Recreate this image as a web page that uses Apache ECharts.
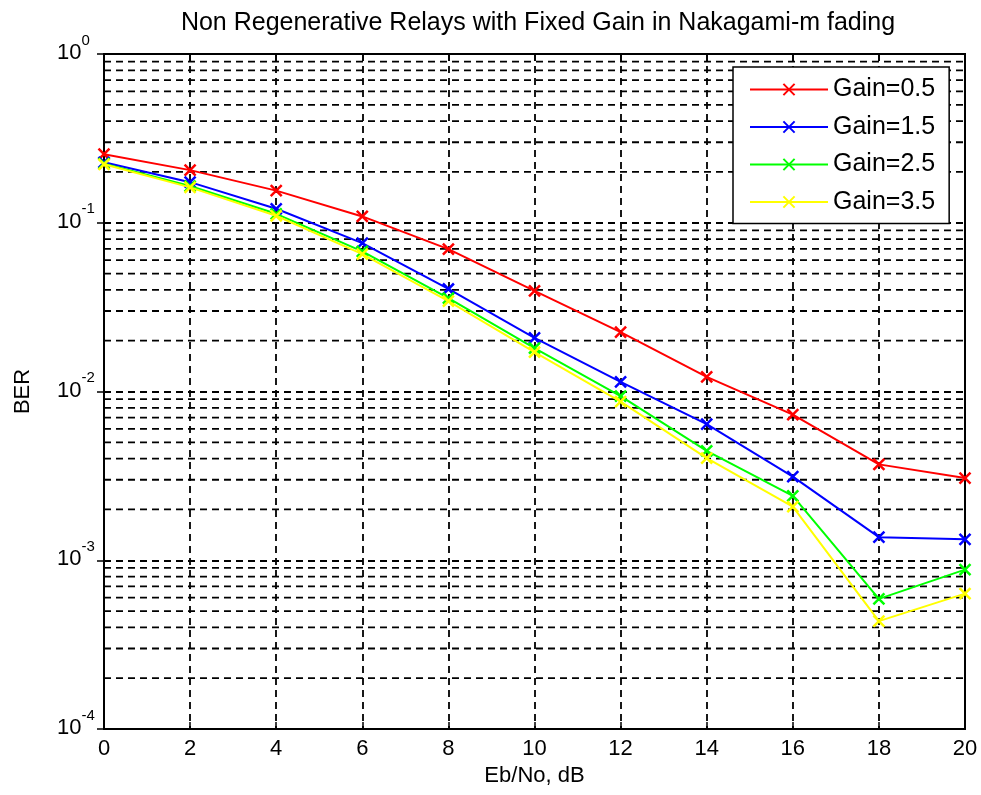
<!DOCTYPE html>
<html>
<head>
<meta charset="utf-8">
<script src="https://cdn.jsdelivr.net/npm/echarts@6/dist/echarts.min.js"></script>
<style>
  html, body { margin: 0; padding: 0; background: #fff; }
  #chart { width: 981px; height: 795px; }
</style>
</head>
<body>
<div id="chart"></div>
<script>
// Eb/No in dB
const ebno = [0, 2, 4, 6, 8, 10, 12, 14, 16, 18, 20];

// BER per fixed relay gain
const gain05 = [0.255, 0.205, 0.155, 0.109, 0.0698, 0.0395, 0.0225, 0.0122, 0.0073, 0.0037, 0.00307];
const gain15 = [0.228, 0.174, 0.121, 0.0757, 0.0405, 0.0208, 0.0114, 0.0064, 0.00313, 0.00137, 0.00133];
const gain25 = [0.224, 0.165, 0.113, 0.0676, 0.0358, 0.0181, 0.0094, 0.00445, 0.00241, 0.00059, 0.00088];
const gain35 = [0.222, 0.162, 0.110, 0.0652, 0.0343, 0.0171, 0.0087, 0.00403, 0.00208, 0.000436, 0.000634];

const seriesNames = ['Gain=0.5', 'Gain=1.5', 'Gain=2.5', 'Gain=3.5'];
const seriesColors = ['#ff0000', '#0000ff', '#00ff00', '#ffff00'];
const seriesValues = [gain05, gain15, gain25, gain35];

// decade exponents on the BER axis and the minor grid multipliers
const decadeExponents = [-4, -3, -2, -1];
const minorSteps = [2, 3, 4, 5, 6, 7, 8, 9];

const FONT = "'Liberation Sans', Arial, sans-serif";
const crossSymbol = 'path://M0,0L10,10M10,0L0,10';
const gridDash = { color: '#000', type: [7, 5], width: 1.8 };

// minor log grid levels (2..9 x 10^e)
const minorLevels = [];
decadeExponents.forEach(function (e) {
  minorSteps.forEach(function (m) {
    minorLevels.push(m * Math.pow(10, e));
  });
});

const minorGridSeries = {
  name: 'minorGrid',
  type: 'custom',
  silent: true,
  z: 1,
  animation: false,
  data: minorLevels.map(function (v) { return [0, v]; }),
  encode: { x: 0, y: 1 },
  renderItem: function (params, api) {
    const v = api.value(1);
    const left = api.coord([0, v]);
    const right = api.coord([20, v]);
    return {
      type: 'line',
      shape: { x1: left[0], y1: left[1], x2: right[0], y2: right[1] },
      style: { stroke: '#000', lineWidth: 1.8, lineDash: [7, 5] }
    };
  }
};

const lineSeries = seriesValues.map(function (vals, i) {
  return {
    name: seriesNames[i],
    type: 'line',
    data: ebno.map(function (x, j) { return [x, vals[j]]; }),
    symbol: crossSymbol,
    symbolSize: 11,
    showSymbol: true,
    lineStyle: { color: seriesColors[i], width: 2 },
    itemStyle: { color: seriesColors[i], borderColor: seriesColors[i], borderWidth: 2.5 },
    z: 5 + i,
    animation: false
  };
});

const chart = echarts.init(document.getElementById('chart'), null, { renderer: 'canvas' });

chart.setOption({
  backgroundColor: '#ffffff',
  animation: false,
  title: {
    text: 'Non Regenerative Relays with Fixed Gain in Nakagami-m fading',
    left: 533,
    textAlign: 'center',
    top: 6,
    textStyle: { fontFamily: FONT, fontSize: 25, fontWeight: 'normal', color: '#000' }
  },
  grid: {
    left: 104, right: 16, top: 54, bottom: 66,
    show: true, borderColor: '#000', borderWidth: 2, backgroundColor: 'transparent'
  },
  legend: {
    orient: 'vertical',
    left: 733,
    top: 67,
    width: 219,
    padding: [10, 14, 9, 16],
    itemGap: 12.5,
    itemWidth: 78,
    itemHeight: 14,
    backgroundColor: '#ffffff',
    borderColor: '#000',
    borderWidth: 1.5,
    textStyle: { fontFamily: FONT, fontSize: 25, color: '#000' },
    data: seriesNames
  },
  xAxis: [{
    type: 'value',
    min: 0, max: 20, interval: 2,
    name: 'Eb/No, dB',
    nameLocation: 'middle',
    nameGap: 35,
    nameTextStyle: { fontFamily: FONT, fontSize: 22, color: '#000' },
    axisLine: { show: true, lineStyle: { color: '#000', width: 2 } },
    axisTick: { show: true, inside: true, length: 7, lineStyle: { color: '#000', width: 1.5 } },
    axisLabel: { fontFamily: FONT, fontSize: 22, color: '#000', margin: 9 },
    splitLine: { show: true, lineStyle: gridDash }
  }, {
    type: 'value',
    position: 'top',
    min: 0, max: 20, interval: 2,
    axisLine: { show: true, lineStyle: { color: '#000', width: 2 } },
    axisTick: { show: true, inside: true, length: 7, lineStyle: { color: '#000', width: 1.5 } },
    axisLabel: { show: false },
    splitLine: { show: false }
  }],
  yAxis: [{
    type: 'log',
    logBase: 10,
    min: 1e-4, max: 1,
    name: 'BER',
    nameLocation: 'middle',
    nameGap: 70,
    nameTextStyle: { fontFamily: FONT, fontSize: 22, color: '#000' },
    axisLine: { show: true, lineStyle: { color: '#000', width: 2 } },
    axisTick: { show: true, inside: true, length: 7, lineStyle: { color: '#000', width: 1.5 } },
    axisLabel: {
      align: 'left',
      margin: 47,
      formatter: function (v) {
        const e = Math.round(Math.log10(v));
        return '{b|10}{s|' + e + '}';
      },
      rich: {
        b: { fontFamily: FONT, fontSize: 22, color: '#000', lineHeight: 22, padding: [9, 0, 11, 0] },
        s: { fontFamily: FONT, fontSize: 15, color: '#000', lineHeight: 15, padding: [0, 0, 27, 0] }
      }
    },
    splitLine: { show: true, lineStyle: gridDash }
  }, {
    type: 'log',
    logBase: 10,
    min: 1e-4, max: 1,
    position: 'right',
    axisLine: { show: true, lineStyle: { color: '#000', width: 2 } },
    axisTick: { show: true, inside: true, length: 7, lineStyle: { color: '#000', width: 1.5 } },
    axisLabel: { show: false },
    splitLine: { show: false }
  }],
  series: [minorGridSeries].concat(lineSeries)
});
</script>
</body>
</html>
